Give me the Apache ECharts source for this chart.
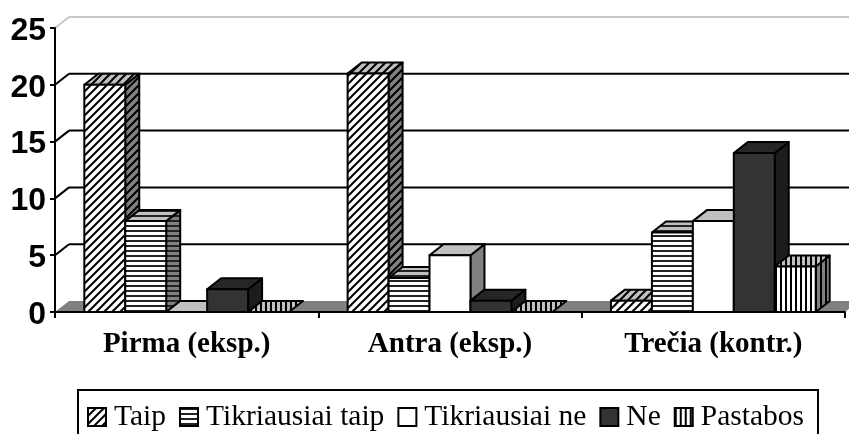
<!DOCTYPE html>
<html><head><meta charset="utf-8">
<style>html,body{margin:0;padding:0;background:#fff}#c{width:849px;height:434px}</style>
<script src="https://cdn.jsdelivr.net/npm/echarts@6/dist/echarts.min.js"></script>
</head><body><div id="c"></div>
<script>
const categories = ['Pirma (eksp.)', 'Antra (eksp.)', 'Trečia (kontr.)'];
const taip = [20, 21, 1];
const tikriausiaiTaip = [8, 3, 7];
const tikriausiaiNe = [0, 5, 8];
const ne = [2, 1, 14];
const pastabos = [0, 0, 4];
const yTicks = [0, 5, 10, 15, 20, 25];
const seriesNames = ['Taip', 'Tikriausiai taip', 'Tikriausiai ne', 'Ne', 'Pastabos'];
const seriesValues = [taip, tikriausiaiTaip, tikriausiaiNe, ne, pastabos];

const DX = 14, DY = -11;
function pattern(kind, bg) {
  const c = document.createElement('canvas');
  const g = c.getContext('2d');
  if (kind === 'diag') {
    c.width = c.height = 8;
    g.fillStyle = bg; g.fillRect(0, 0, 8, 8);
    g.strokeStyle = '#000'; g.lineWidth = 2;
    [[-4, 4, 4, -4], [0, 8, 8, 0], [4, 12, 12, 4]].forEach(s => {
      g.beginPath(); g.moveTo(s[0], s[1]); g.lineTo(s[2], s[3]); g.stroke();
    });
  } else if (kind === 'horiz') {
    c.width = c.height = 5;
    g.fillStyle = bg; g.fillRect(0, 0, 5, 5);
    g.fillStyle = '#222'; g.fillRect(0, 0, 5, 2);
  } else if (kind === 'vert') {
    c.width = c.height = 5;
    g.fillStyle = bg; g.fillRect(0, 0, 5, 5);
    g.fillStyle = '#000'; g.fillRect(0, 0, 2, 5);
  }
  return { image: c, repeat: 'repeat' };
}
const fills = [
  { front: pattern('diag', '#fff'), top: pattern('diag', '#c0c0c0'), side: pattern('diag', '#808080') },
  { front: pattern('horiz', '#fff'), top: pattern('horiz', '#c0c0c0'), side: pattern('horiz', '#808080') },
  { front: '#fff', top: '#c0c0c0', side: '#808080' },
  { front: '#333', top: '#262626', side: '#1c1c1c' },
  { front: pattern('vert', '#fff'), top: pattern('vert', '#c0c0c0'), side: pattern('vert', '#808080') }
];

function barRender(idx) {
  return function (params, api) {
    const cat = api.value(0), val = api.value(1);
    const base = api.coord([cat, 0]), top = api.coord([cat, val]);
    const band = api.size([1, 0])[0];
    const w = band * 0.1555;
    const x0 = base[0] + (idx - 2.5) * w, x1 = x0 + w;
    const yb = base[1], yt = top[1];
    const line = { stroke: '#000', lineWidth: 2, lineJoin: 'round' };
    const kids = [];
    if (val > 0) {
      kids.push({ type: 'polygon', shape: { points: [[x1, yb], [x1 + DX, yb + DY], [x1 + DX, yt + DY], [x1, yt]] },
        style: Object.assign({ fill: fills[idx].side }, line) });
    }
    kids.push({ type: 'polygon', shape: { points: [[x0, yt], [x0 + DX, yt + DY], [x1 + DX, yt + DY], [x1, yt]] },
      style: Object.assign({ fill: fills[idx].top }, line) });
    if (val > 0) {
      kids.push({ type: 'rect', shape: { x: x0, y: yt, width: w, height: yb - yt },
        style: Object.assign({ fill: fills[idx].front }, line) });
    }
    return { type: 'group', children: kids };
  };
}
function wallRender(params, api) {
  const v = api.value(1);
  const r = params.coordSys;
  const y = api.coord([0, v])[1];
  const color = v === 25 ? '#c8c8c8' : '#000';
  const kids = [];
  if (v === 0) {
    kids.push({ type: 'polygon', shape: { points: [[r.x, y], [r.x + DX, y + DY], [r.x + r.width + DX, y + DY], [r.x + r.width, y]] },
      style: { fill: '#808080' } });
  } else {
    kids.push({ type: 'line', shape: { x1: r.x, y1: y, x2: r.x + DX, y2: y + DY }, style: { stroke: color, lineWidth: 2 } });
    kids.push({ type: 'line', shape: { x1: r.x + DX, y1: y + DY, x2: r.x + r.width + DX, y2: y + DY }, style: { stroke: color, lineWidth: 2 } });
  }
  return { type: 'group', children: kids };
}

const series = [{
  type: 'custom', name: 'wall', renderItem: wallRender, clip: false, silent: true, z: 1,
  encode: { x: 0, y: 1 }, data: yTicks.map(v => [0, v])
}].concat(seriesNames.map((n, i) => ({
  type: 'custom', name: n, renderItem: barRender(i), clip: false, z: 2 + i,
  encode: { x: 0, y: 1 }, data: seriesValues[i].map((v, c) => [c, v]),
  itemStyle: { color: '#000' }
})));

const chart = echarts.init(document.getElementById('c'), null, { renderer: 'canvas' });
chart.setOption({
  animation: false,
  backgroundColor: '#fff',
  grid: { left: 55, right: 4, top: 28, bottom: 122, containLabel: false },
  xAxis: {
    type: 'category', data: categories,
    axisLine: { onZero: false, lineStyle: { color: '#000', width: 2 } },
    axisTick: { show: true, alignWithLabel: false, length: 6, lineStyle: { color: '#000', width: 2 } },
    axisLabel: { color: '#000', fontFamily: 'Liberation Serif', fontWeight: 'bold', fontSize: 29, margin: 18, interval: 0 },
    z: 20
  },
  yAxis: {
    type: 'value', min: 0, max: 25, interval: 5,
    splitLine: { show: false },
    axisLine: { show: true, lineStyle: { color: '#000', width: 2 } },
    axisTick: { show: true, length: 5, lineStyle: { color: '#000', width: 2 } },
    axisLabel: {
      color: '#000', margin: 9, formatter: '{a|{value}}',
      rich: { a: { color: '#000', fontFamily: 'Liberation Sans', fontWeight: 'bold', fontSize: 32, padding: [6, 0, 0, 0] } }
    },
    z: 20
  },
  legend: {
    left: 78, top: 390, orient: 'horizontal', selectedMode: false,
    backgroundColor: '#fff', borderColor: '#000', borderWidth: 2,
    padding: [12, 14, 14, 9], itemGap: 13, itemWidth: 18, itemHeight: 18,
    textStyle: { color: '#000', fontFamily: 'Liberation Serif', fontSize: 29.5, padding: [0, 0, 0, 3] },
    data: seriesNames.map((n, i) => ({
      name: n, icon: 'rect',
      itemStyle: { color: fills[i].front, borderColor: '#000', borderWidth: 2 }
    }))
  },
  series: series
});
</script></body></html>
